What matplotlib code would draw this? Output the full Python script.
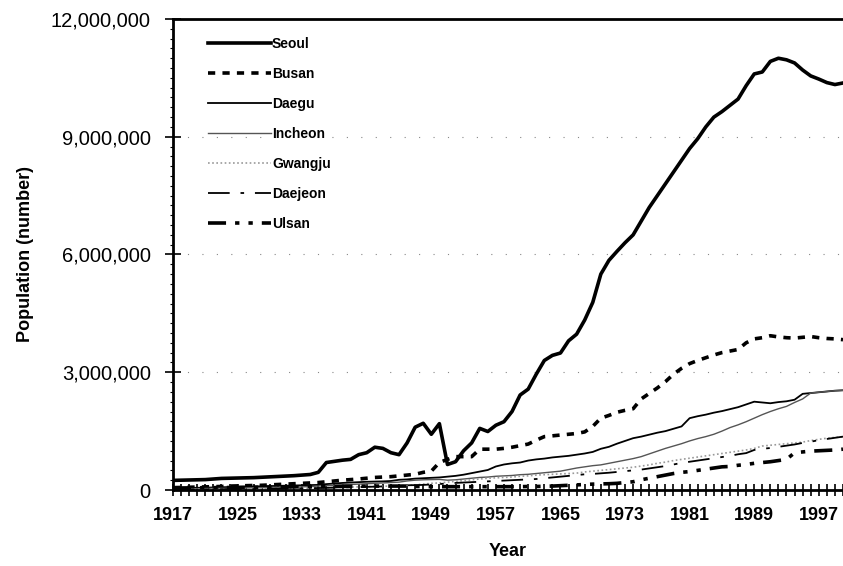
import matplotlib
matplotlib.use('Agg')

import numpy as np
import matplotlib.pyplot as plt
from matplotlib.ticker import FuncFormatter, MultipleLocator

plt.rcParams['font.family'] = ['Liberation Sans', 'DejaVu Sans']

years = list(range(1917, 2001))
tick_years = list(range(1917, 2000, 8))

seoul = [245, 250, 255, 260, 265, 280, 295, 300, 305, 310,
         315, 325, 335, 345, 355, 365, 380, 395, 450, 700,
         730, 760, 780, 900, 950, 1090, 1060, 950, 900, 1200,
         1600, 1700, 1420, 1690, 650, 720, 1000, 1200, 1570, 1490,
         1650, 1740, 2000, 2420, 2570, 2950, 3300, 3430, 3490, 3800,
         3970, 4330, 4780, 5500, 5850, 6080, 6300, 6500, 6850, 7200,
         7500, 7800, 8100, 8400, 8700, 8950, 9250, 9500, 9640, 9800,
         9960, 10300, 10600, 10650, 10920, 11000, 10960, 10880, 10700, 10550,
         10470, 10380, 10330, 10370]

busan = [60, 65, 70, 75, 80, 85, 90, 100, 105, 110,
         115, 120, 130, 140, 150, 160, 170, 180, 190, 210,
         230, 250, 265, 280, 300, 320, 330, 340, 360, 380,
         400, 450, 480, 700, 780, 850, 850, 850, 1040, 1040,
         1040, 1060, 1090, 1130, 1170, 1270, 1360, 1380, 1400, 1420,
         1440, 1480, 1620, 1830, 1900, 1980, 2030, 2070, 2320, 2460,
         2600, 2760, 2950, 3100, 3220, 3300, 3370, 3440, 3500, 3540,
         3580, 3750, 3850, 3880, 3930, 3900, 3880, 3870, 3890, 3910,
         3880, 3860, 3850, 3830]

daegu = [45, 48, 52, 56, 60, 65, 70, 75, 80, 85,
         90, 95, 100, 105, 110, 115, 120, 125, 130, 150,
         165, 180, 190, 200, 210, 215, 220, 230, 260, 270,
         290, 300, 310, 320, 340, 360, 390, 430, 470, 510,
         600, 650, 680, 700, 750, 780, 800, 830, 850, 870,
         900, 930, 970, 1050, 1100, 1180, 1250, 1320, 1360, 1410,
         1460, 1500, 1560, 1620, 1830, 1880, 1920, 1970, 2010, 2060,
         2110, 2180, 2250, 2230, 2210, 2240, 2260, 2300, 2450, 2470,
         2490, 2510, 2530, 2540]

incheon = [30, 32, 34, 36, 38, 40, 42, 45, 50, 52,
           55, 58, 62, 66, 70, 75, 80, 90, 100, 110,
           120, 130, 140, 150, 160, 170, 180, 190, 200, 230,
           250, 260, 265, 270, 250, 260, 280, 300, 320, 330,
           350, 360, 370, 390, 400, 420, 440, 460, 480, 520,
           560, 590, 620, 640, 680, 720, 760, 800, 850, 920,
           990, 1060, 1120, 1180, 1250, 1310, 1360, 1420, 1500, 1590,
           1660, 1740, 1830, 1920, 2000, 2070, 2130, 2230, 2320, 2470,
           2490, 2510, 2530, 2540]

gwangju = [15, 16, 18, 19, 20, 21, 22, 24, 26, 28,
           30, 32, 34, 36, 38, 40, 45, 50, 55, 60,
           65, 70, 75, 80, 85, 90, 95, 100, 110, 120,
           130, 150, 170, 180, 200, 220, 240, 260, 280, 300,
           310, 320, 330, 350, 360, 380, 390, 400, 410, 420,
           430, 460, 480, 500, 520, 540, 560, 580, 610, 640,
           680, 710, 750, 780, 810, 840, 870, 900, 930, 960,
           990, 1020, 1060, 1120, 1140, 1160, 1180, 1200, 1220, 1260,
           1290, 1320, 1340, 1350]

daejeon = [10, 11, 12, 13, 14, 15, 16, 18, 20, 22,
           24, 26, 28, 30, 32, 35, 40, 45, 50, 55,
           60, 65, 70, 75, 80, 85, 90, 95, 110, 120,
           125, 130, 140, 150, 170, 180, 190, 200, 210, 220,
           230, 240, 250, 260, 270, 280, 300, 320, 340, 360,
           380, 400, 410, 425, 440, 460, 480, 500, 520, 550,
           580, 610, 650, 690, 720, 750, 780, 810, 840, 870,
           910, 940, 1020, 1050, 1070, 1100, 1130, 1160, 1200, 1230,
           1270, 1300, 1330, 1360]

ulsan = [50, 52, 54, 56, 58, 60, 62, 64, 66, 68,
         70, 72, 74, 76, 78, 80, 82, 84, 86, 88,
         90, 92, 94, 96, 98, 100, 100, 100, 100, 100,
         90, 90, 85, 85, 85, 85, 85, 85, 85, 85,
         85, 85, 85, 85, 90, 90, 95, 100, 110, 120,
         130, 140, 150, 155, 160, 170, 190, 210, 260, 300,
         340, 380, 420, 450, 470, 500, 530, 560, 590, 600,
         630, 650, 680, 700, 720, 750, 780, 950, 970, 990,
         1000, 1010, 1020, 1040]

series = [
    ('Seoul', seoul, dict(color='black', lw=2.6, ls='-')),
    ('Busan', busan, dict(color='black', lw=2.6, ls=(0, (2, 2)))),
    ('Daegu', daegu, dict(color='black', lw=1.3, ls='-')),
    ('Incheon', incheon, dict(color='#555555', lw=1.0, ls='-')),
    ('Gwangju', gwangju, dict(color='#999999', lw=1.2, ls=(0, (1, 1.5)))),
    ('Daejeon', daejeon, dict(color='black', lw=1.3, ls=(0, (12, 6, 2, 6)))),
    ('Ulsan', ulsan, dict(color='black', lw=2.6, ls=(0, (5, 2.5, 1.2, 2.5, 1.2, 2.5)))),
]

fig = plt.figure(figsize=(8.43, 5.66), dpi=100)
ax = fig.add_axes([173 / 843, 76 / 566, 1 - 173 / 843, (490 - 19) / 566])

for name, vals, style in series:
    ax.plot(years, np.array(vals) * 1000, label=name, **style)

ax.set_xlim(1917, 2000)
ax.set_ylim(0, 12000000)

ax.set_xticks(tick_years)
ax.xaxis.set_minor_locator(MultipleLocator(1))
ax.yaxis.set_major_locator(MultipleLocator(3000000))
ax.yaxis.set_minor_locator(MultipleLocator(250000))
ax.yaxis.set_major_formatter(FuncFormatter(lambda v, p: f'{int(v):,}'))

ax.tick_params(axis='x', which='both', direction='inout', length=8, width=1.2, labelsize=13, pad=8)
ax.tick_params(axis='y', which='major', direction='inout', length=12, width=1.2, labelsize=14.5, pad=10)
ax.tick_params(axis='y', which='minor', direction='out', length=2, width=0.8)
for lab in ax.get_xticklabels():
    lab.set_fontweight('bold')

for s in ['left', 'bottom', 'top']:
    ax.spines[s].set_linewidth(2)
ax.spines['right'].set_visible(False)

ax.grid(axis='y', which='major', color='#888888', lw=0.8, ls=(0, (1, 12)))

ax.set_xlabel('Year', fontsize=13, fontweight='bold', labelpad=14)
ax.set_ylabel('Population (number)', fontsize=13, fontweight='bold', labelpad=12)

ax.legend(loc='upper left', bbox_to_anchor=(208 / 843, 1 - 37 / 566),
          bbox_transform=fig.transFigure, frameon=False,
          prop={'weight': 'bold', 'size': 10}, handlelength=4.5,
          handletextpad=0.1, labelspacing=1.15, borderpad=0, borderaxespad=0)

fig.savefig('out.png', dpi=100)
